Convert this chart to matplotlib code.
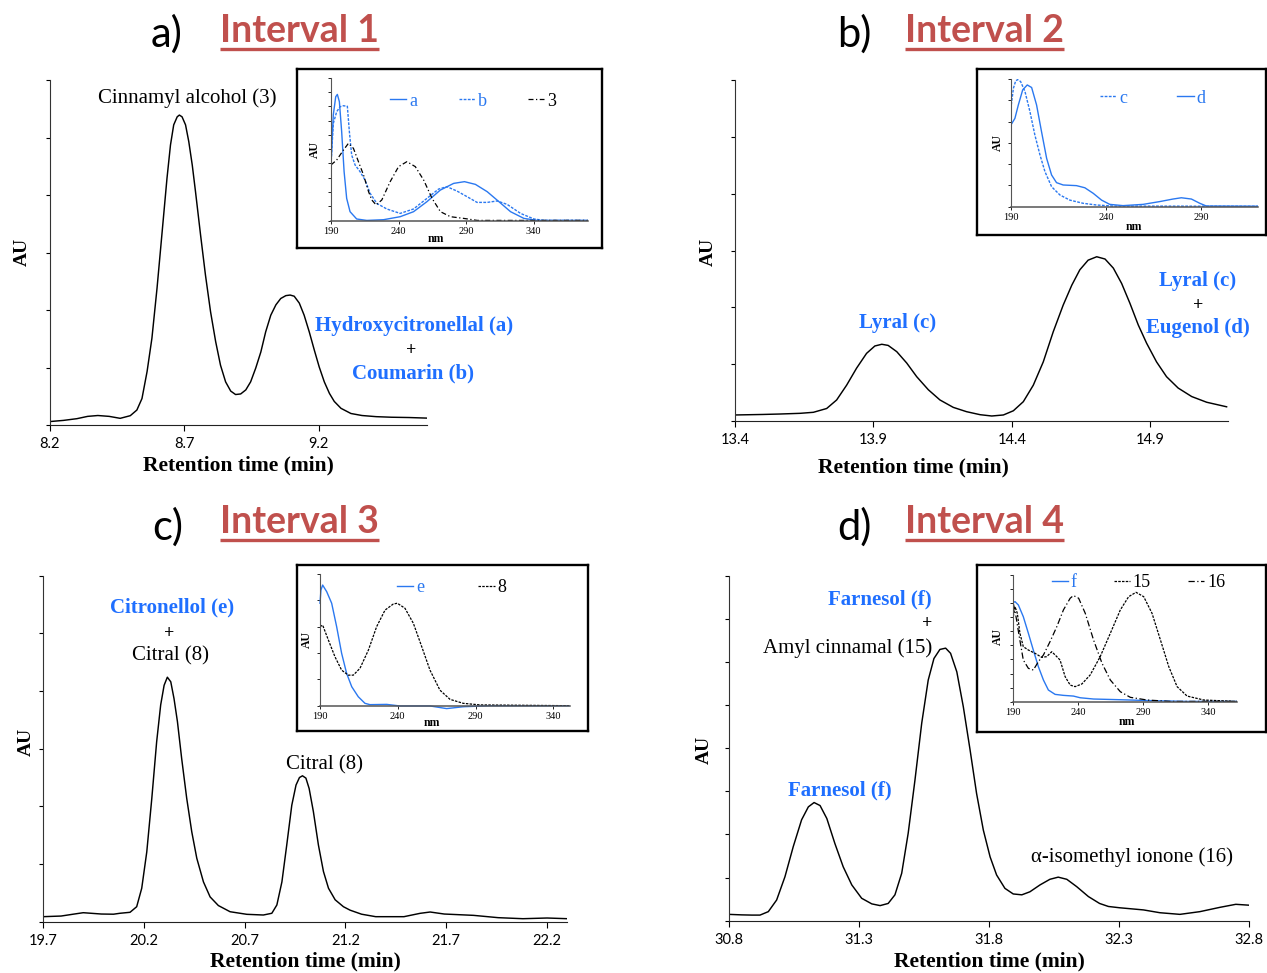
import matplotlib
matplotlib.use("Agg")
import matplotlib.pyplot as plt
from matplotlib.lines import Line2D

W, H = 1267, 973
SERIF = "Liberation Serif"
SANS = "Lato"
BLUE = "#1f6fff"
CURVE_BLUE = "#2a78f0"
RED = "#c0504d"

# ---------------- chromatograms: (retention time in min, absorbance in tick units)
trace_a = [(8.200, 0.06), (8.250, 0.08), (8.300, 0.11), (8.340, 0.15), (8.378, 0.165),
           (8.420, 0.15), (8.461, 0.116), (8.4985, 0.162), (8.523, 0.26), (8.542, 0.46),
           (8.561, 0.93), (8.579, 1.51), (8.598, 2.38), (8.617, 3.36), (8.635, 4.29),
           (8.648, 4.87), (8.660, 5.22), (8.673, 5.36), (8.681, 5.39), (8.691, 5.36),
           (8.704, 5.22), (8.716, 4.93), (8.729, 4.52), (8.741, 4.06), (8.760, 3.30),
           (8.778, 2.61), (8.797, 1.97), (8.816, 1.45), (8.834, 1.04), (8.853, 0.75),
           (8.872, 0.59), (8.890, 0.53), (8.909, 0.54), (8.928, 0.61), (8.946, 0.75),
           (8.965, 0.99), (8.984, 1.27), (9.002, 1.62), (9.021, 1.91), (9.040, 2.09),
           (9.058, 2.20), (9.077, 2.25), (9.093, 2.26), (9.108, 2.24), (9.127, 2.12),
           (9.145, 1.91), (9.164, 1.62), (9.183, 1.30), (9.201, 1.01), (9.220, 0.75),
           (9.239, 0.55), (9.257, 0.41), (9.282, 0.29), (9.319, 0.20), (9.360, 0.165),
           (9.413, 0.145), (9.470, 0.135), (9.535, 0.13), (9.600, 0.12)]

trace_b = [(13.400, 0.106), (13.500, 0.115), (13.563, 0.123), (13.635, 0.135),
           (13.683, 0.153), (13.731, 0.22), (13.767, 0.37), (13.803, 0.63), (13.839, 0.93),
           (13.875, 1.19), (13.905, 1.32), (13.930, 1.35), (13.953, 1.33), (13.984, 1.22),
           (14.020, 1.02), (14.056, 0.78), (14.098, 0.55), (14.140, 0.37), (14.188, 0.24),
           (14.236, 0.164), (14.285, 0.111), (14.327, 0.088), (14.369, 0.106), (14.405, 0.18),
           (14.441, 0.34), (14.477, 0.63), (14.513, 1.04), (14.549, 1.57), (14.585, 2.04),
           (14.616, 2.39), (14.645, 2.66), (14.675, 2.83), (14.706, 2.89), (14.736, 2.85),
           (14.766, 2.69), (14.796, 2.42), (14.826, 2.07), (14.856, 1.69), (14.886, 1.37),
           (14.922, 1.04), (14.958, 0.78), (15.000, 0.58), (15.049, 0.43), (15.103, 0.33),
           (15.175, 0.25)]

trace_c = [(19.70, 0.087), (19.79, 0.098), (19.85, 0.13), (19.90, 0.156), (19.99, 0.133),
           (20.05, 0.13), (20.082, 0.146), (20.132, 0.163), (20.165, 0.26), (20.190, 0.58),
           (20.215, 1.21), (20.240, 2.14), (20.264, 3.12), (20.284, 3.76), (20.301, 4.10),
           (20.317, 4.24), (20.334, 4.16), (20.350, 3.87), (20.367, 3.47), (20.388, 2.83),
           (20.413, 2.14), (20.438, 1.56), (20.463, 1.10), (20.496, 0.69), (20.529, 0.43),
           (20.570, 0.28), (20.628, 0.173), (20.711, 0.128), (20.793, 0.116), (20.835, 0.146),
           (20.860, 0.29), (20.885, 0.69), (20.909, 1.33), (20.934, 2.02), (20.955, 2.37),
           (20.972, 2.50), (20.987, 2.53), (21.004, 2.49), (21.020, 2.31), (21.041, 1.91),
           (21.066, 1.33), (21.091, 0.87), (21.116, 0.58), (21.149, 0.38), (21.190, 0.26),
           (21.223, 0.20), (21.28, 0.13), (21.35, 0.087), (21.49, 0.087), (21.57, 0.145),
           (21.62, 0.168), (21.69, 0.133), (21.835, 0.11), (21.957, 0.07), (22.08, 0.052),
           (22.20, 0.064), (22.30, 0.052)]

trace_d = [(30.80, 0.147), (30.85, 0.135), (30.889, 0.13), (30.920, 0.13), (30.952, 0.21),
           (30.984, 0.48), (31.016, 1.02), (31.048, 1.72), (31.080, 2.34), (31.106, 2.64),
           (31.128, 2.74), (31.151, 2.67), (31.177, 2.37), (31.208, 1.79), (31.240, 1.25),
           (31.273, 0.83), (31.311, 0.52), (31.350, 0.39), (31.382, 0.35), (31.413, 0.40),
           (31.439, 0.60), (31.465, 1.10), (31.490, 2.03), (31.516, 3.26), (31.542, 4.58),
           (31.567, 5.58), (31.589, 6.08), (31.612, 6.29), (31.634, 6.32), (31.653, 6.20),
           (31.677, 5.77), (31.702, 4.96), (31.728, 3.96), (31.753, 2.95), (31.779, 2.10),
           (31.805, 1.48), (31.830, 1.06), (31.862, 0.75), (31.894, 0.62), (31.927, 0.60),
           (31.958, 0.67), (31.997, 0.83), (32.035, 0.96), (32.067, 1.01), (32.100, 0.96),
           (32.138, 0.79), (32.183, 0.56), (32.226, 0.40), (32.26, 0.33), (32.303, 0.30),
           (32.395, 0.25), (32.458, 0.185), (32.535, 0.147), (32.612, 0.21), (32.689, 0.31),
           (32.75, 0.38), (32.80, 0.36)]

# ---------------- UV spectra (wavelength in nm, absorbance in tick units)
nm_sa = [190, 191.7, 193.5, 194.7, 196.2, 197.9, 199.7, 201.6, 204.1, 209, 216.5,
         228.9, 241.2, 251.1, 261, 270.9, 280.8, 288.8, 296.9, 305.6, 314.3, 322.9,
         332.8, 342.7, 380]
au_sa = [3.9, 7.4, 8.67, 8.83, 8.32, 6.22, 3.43, 1.56, 0.63, 0.12, 0.02,
         0.07, 0.28, 0.63, 1.33, 2.14, 2.61, 2.73, 2.54, 2.03, 1.33, 0.63,
         0.16, 0.02, 0.02]
nm_sb = [190, 191.7, 194.2, 196.7, 199.2, 202.1, 203.6, 205.3, 207.8, 211.5, 215.2,
         219, 223.9, 231.3, 241.2, 251.1, 261, 269.6, 275.8, 283.3, 290.7, 298.1,
         305.6, 313, 320.4, 330.3, 340.2, 347.7, 380]
au_sb = [3.9, 6.8, 7.62, 7.97, 8.04, 8.0, 6.22, 4.59, 3.9, 3.43, 2.84,
         1.91, 1.21, 0.82, 0.51, 0.82, 1.56, 2.21, 2.38, 2.07, 1.68, 1.28,
         1.28, 1.38, 1.14, 0.51, 0.12, 0.02, 0.02]
nm_s3 = [190, 194.2, 199.2, 202.9, 206.6, 210.3, 214.1, 217.8, 220.2, 223.4, 227.6,
         233.8, 240, 246.2, 252.4, 258.6, 264.8, 271, 278.4, 288.3, 298.2, 380]
au_s3 = [3.9, 4.24, 4.94, 5.41, 5.06, 4.13, 3.19, 2.03, 1.45, 1.1, 1.45,
         2.73, 3.78, 4.13, 3.78, 2.84, 1.56, 0.63, 0.28, 0.16, 0.02, 0.02]

nm_sc = [190, 191.1, 192.3, 193.3, 194.9, 197.2, 199.8, 202.4, 205.1, 207.7, 211.2,
         215.6, 220.8, 227.8, 234.8, 243.6, 320]
au_sc = [4.78, 5.56, 5.91, 5.97, 5.88, 5.41, 4.47, 3.37, 2.43, 1.65, 0.94,
         0.55, 0.31, 0.16, 0.08, 0.03, 0.02]
nm_sd = [190, 191.9, 193.7, 196, 198.4, 200.7, 203.3, 205.9, 208.6, 211.2, 213.8,
         217.3, 224.3, 228.7, 233.1, 237.5, 241.8, 248.8, 259.4, 268.1, 275.1, 279.5,
         284.8, 289.2, 292.7, 320]
au_sd = [3.87, 4.15, 4.78, 5.49, 5.72, 5.6, 4.78, 3.53, 2.27, 1.49, 1.13,
         1.02, 0.99, 0.89, 0.63, 0.31, 0.11, 0.05, 0.11, 0.24, 0.36, 0.42,
         0.36, 0.16, 0.03, 0.02]

nm_se = [190, 190.6, 191.7, 194.3, 197.5, 200.7, 203.9, 207.1, 210.4, 214.6, 218.9,
         222.1, 232.9, 241.4, 260.7, 271.4, 282.1, 299.3, 350]
au_se = [3.89, 4.39, 4.58, 4.33, 3.89, 3.0, 1.99, 1.23, 0.72, 0.34, 0.09,
         0.04, 0.05, -0.01, -0.01, -0.11, -0.04, 0.0, 0.0]
nm_s8 = [190, 191.7, 195.4, 199.6, 203.9, 208.2, 211.4, 215.7, 221.1, 226.4, 231.8,
         237.1, 239.7, 244.6, 250, 255.4, 260.7, 267.1, 273.6, 282.1, 292.9, 350]
au_s8 = [3.0, 3.06, 2.49, 1.86, 1.35, 1.16, 1.16, 1.42, 2.11, 3.0, 3.63,
         3.86, 3.89, 3.7, 3.13, 2.24, 1.35, 0.59, 0.24, 0.09, 0.03, 0.0]

nm_sf = [190, 191.3, 193.9, 197.7, 201.6, 205.4, 209.3, 213.2, 217, 222.2, 228.6,
         236.3, 241.5, 251.8, 272.4, 298.1, 323.8, 362]
au_sf = [7.04, 7.11, 6.87, 6.04, 4.86, 3.67, 2.49, 1.54, 0.83, 0.52, 0.45,
         0.4, 0.28, 0.19, 0.14, 0.07, 0.02, 0.02]
nm_s15 = [190, 191.3, 193.1, 195.1, 197.7, 201.6, 206.7, 211.9, 215.7, 219.6, 222.2,
          226, 229.9, 233.8, 237.6, 242.8, 249.2, 256.9, 264.7, 272.4, 278.8, 284.5,
          290.4, 296.8, 303.3, 309.7, 316.1, 323.8, 336.7, 362]
au_s15 = [6.04, 6.75, 6.28, 4.86, 3.91, 3.67, 3.44, 3.15, 3.2, 3.55, 3.32,
          2.96, 1.78, 1.18, 1.07, 1.26, 1.9, 3.2, 4.86, 6.52, 7.46, 7.77,
          7.46, 6.28, 4.38, 2.49, 1.07, 0.4, 0.12, 0.02]
nm_s16 = [190, 192.1, 194.6, 197.7, 201.6, 205.4, 209.3, 213.2, 218.3, 223.5, 228.6,
          233.8, 236.3, 240.3, 245.4, 251.8, 258.3, 264.7, 272.4, 280.1, 293, 311, 362]
au_s16 = [6.99, 6.04, 4.62, 2.96, 2.37, 2.25, 2.84, 3.32, 4.27, 5.33, 6.52,
          7.35, 7.54, 7.35, 6.28, 4.38, 2.73, 1.54, 0.71, 0.31, 0.12, 0.02, 0.02]

fig = plt.figure(figsize=(W / 100, H / 100), dpi=100)
renderer = fig.canvas.get_renderer()


def px_rect(l, t, r, b):
    return [l / W, 1 - b / H, (r - l) / W, (b - t) / H]


def fig_xy(x, y):
    return x / W, 1 - y / H


def chromatogram(frame, trace, xlim, xticks, n_y, xlabel_xy, ylabel_xy):
    ax = fig.add_axes(px_rect(*frame))
    ax.set_facecolor("none")
    t, au = zip(*trace)
    ax.plot(t, au, color="black", lw=1.05, solid_joinstyle="round")
    ax.set_xlim(*xlim)
    ax.set_ylim(0, n_y)
    ax.spines[["top", "right"]].set_visible(False)
    ax.spines["left"].set_color("#333333")
    ax.spines["bottom"].set_color("#222222")
    ax.set_xticks(xticks)
    ax.set_xticklabels([f"{v:.1f}" for v in xticks], fontfamily=SANS, fontsize=10.5)
    ax.set_yticks(range(n_y + 1))
    ax.set_yticklabels([])
    ax.tick_params(axis="x", length=4, width=0.8, pad=5)
    ax.tick_params(axis="y", length=3, width=0.8)
    ax.set_xlabel("Retention time (min)", fontfamily=SERIF, fontweight="bold", fontsize=15.5)
    ax.xaxis.set_label_coords(*fig_xy(*xlabel_xy), transform=fig.transFigure)
    ax.xaxis.label.set_va("center")
    ax.set_ylabel("AU", fontfamily=SERIF, fontweight="bold", fontsize=14)
    ax.yaxis.set_label_coords(*fig_xy(*ylabel_xy), transform=fig.transFigure)
    ax.yaxis.label.set_va("center")
    return ax


def panel_title(letter, title, x_letter, base_letter, x_title, base_title):
    fig.text(*fig_xy(x_letter, base_letter), letter, fontfamily=SANS, fontsize=30,
             ha="left", va="baseline")
    t = fig.text(*fig_xy(x_title, base_title), title, fontfamily=SANS, fontweight="bold",
                 fontsize=27, color=RED, ha="left", va="baseline")
    bb = t.get_window_extent(renderer)
    y = 1 - (base_title + 6.5) / H
    fig.add_artist(Line2D([bb.x0 / W, bb.x1 / W], [y, y], transform=fig.transFigure,
                          color=RED, lw=2.4, solid_capstyle="butt"))


def spectrum_inset(box, frame, xlim, xticks, n_y, nm_xy, au_xy):
    b = fig.add_axes(px_rect(*box))
    b.set_xticks([])
    b.set_yticks([])
    b.set_facecolor("white")
    for s in b.spines.values():
        s.set_linewidth(1.7)
        s.set_color("black")
    ax = fig.add_axes(px_rect(*frame))
    ax.set_facecolor("none")
    ax.set_xlim(*xlim)
    ax.set_ylim(0, n_y)
    ax.spines[["top", "right"]].set_visible(False)
    ax.spines["left"].set_color("#555555")
    ax.spines["bottom"].set_color("#555555")
    ax.spines["bottom"].set_linewidth(1.1)
    ax.set_xticks(xticks)
    ax.set_xticklabels([str(v) for v in xticks], fontfamily=SERIF, fontsize=7.5)
    ax.set_yticks(range(n_y + 1))
    ax.set_yticklabels([])
    ax.tick_params(axis="both", length=2, width=0.6, pad=2.5)
    ax.set_xlabel("nm", fontfamily=SERIF, fontweight="bold", fontsize=8.5)
    ax.xaxis.set_label_coords(*fig_xy(*nm_xy), transform=fig.transFigure)
    ax.xaxis.label.set_va("center")
    ax.set_ylabel("AU", fontfamily=SERIF, fontweight="bold", fontsize=8.5)
    ax.yaxis.set_label_coords(*fig_xy(*au_xy), transform=fig.transFigure)
    ax.yaxis.label.set_va("center")
    return ax


def spectrum_legend(ax, anchor, colspace):
    leg = ax.legend(loc="center left", bbox_to_anchor=anchor, ncol=len(ax.get_lines()),
                    frameon=False, prop={"family": SERIF, "size": 13}, handlelength=0.9,
                    handletextpad=0.15, columnspacing=colspace, borderpad=0,
                    borderaxespad=0)
    for txt, line in zip(leg.get_texts(), leg.get_lines()):
        txt.set_color(line.get_color())


DOTTED = (0, (2, 1))
DASHDOT = (0, (4, 2, 1, 2))

# ---------------- a) Interval 1
ax = chromatogram((50, 80, 426.5, 425), trace_a, (8.2, 9.6), [8.2, 8.7, 9.2], 6,
                  (238, 465), (22, 252))
ax.text(8.711, 5.69, "Cinnamyl alcohol (3)", fontfamily=SERIF, fontsize=15,
        ha="center", va="center")
ax.text(9.554, 1.72, "Hydroxycitronellal (a)", fontfamily=SERIF, fontweight="bold",
        fontsize=15, color=BLUE, ha="center", va="center")
ax.text(9.543, 1.30, "+", fontfamily=SERIF, fontweight="bold", fontsize=13,
        ha="center", va="center")
ax.text(9.551, 0.89, "Coumarin (b)", fontfamily=SERIF, fontweight="bold",
        fontsize=15, color=BLUE, ha="center", va="center")
panel_title("a)", "Interval 1", 151, 46.5, 220, 42)

ins = spectrum_inset((296.7, 69, 601.7, 248.3), (331, 77.7, 587.7, 220.7), (190, 380),
                     [190, 240, 290, 340], 10, (436, 239), (315, 150))
ins.plot(nm_sa, au_sa, color=CURVE_BLUE, lw=1.0, label="a")
ins.plot(nm_sb, au_sb, color=CURVE_BLUE, lw=1.0, ls=DOTTED, label="b")
ins.plot(nm_s3, au_s3, color="black", lw=0.9, ls=DASHDOT, label="3")
spectrum_legend(ins, (0.23, 0.837), 2.3)

# ---------------- b) Interval 2
ax = chromatogram((735, 80, 1228, 421), trace_b, (13.4, 15.18),
                  [13.4, 13.9, 14.4, 14.9], 6, (913, 467), (708, 252))
ax.text(13.988, 1.725, "Lyral (c)", fontfamily=SERIF, fontweight="bold", fontsize=15,
        color=BLUE, ha="center", va="center")
ax.text(15.071, 2.465, "Lyral (c)", fontfamily=SERIF, fontweight="bold", fontsize=15,
        color=BLUE, ha="center", va="center")
ax.text(15.071, 2.025, "+", fontfamily=SERIF, fontweight="bold", fontsize=13,
        ha="center", va="center")
ax.text(15.071, 1.637, "Eugenol (d)", fontfamily=SERIF, fontweight="bold", fontsize=15,
        color=BLUE, ha="center", va="center")
panel_title("b)", "Interval 2", 837, 46.5, 905, 42)

ins = spectrum_inset((977.3, 69, 1266, 235), (1011.3, 79, 1258.3, 206.7), (190, 320),
                     [190, 240, 290], 6, (1134, 226.7), (998, 143))
ins.plot(nm_sc, au_sc, color=CURVE_BLUE, lw=1.0, ls=DOTTED, label="c")
ins.plot(nm_sd, au_sd, color=CURVE_BLUE, lw=1.0, label="d")
spectrum_legend(ins, (0.359, 0.851), 2.8)

# ---------------- c) Interval 3
ax = chromatogram((42.9, 575.7, 567.3, 921.7), trace_c, (19.7, 22.3),
                  [19.7, 20.2, 20.7, 21.2, 21.7, 22.2], 6, (305, 961.7), (26.5, 742))
ax.text(20.340, 5.457, "Citronellol (e)", fontfamily=SERIF, fontweight="bold",
        fontsize=15, color=BLUE, ha="center", va="center")
ax.text(20.325, 5.006, "+", fontfamily=SERIF, fontweight="bold", fontsize=13,
        ha="center", va="center")
ax.text(20.335, 4.607, "Citral (8)", fontfamily=SERIF, fontsize=15, ha="center",
        va="center")
ax.text(21.094, 2.717, "Citral (8)", fontfamily=SERIF, fontsize=15, ha="center",
        va="center")
panel_title("c)", "Interval 3", 152, 540, 220, 533.3)

ins = spectrum_inset((296.7, 565, 587.7, 730.7), (320, 574, 570, 705.7), (190, 350.7),
                     [190, 240, 290, 340], 5, (431.7, 722.7), (307, 640))
ins.plot(nm_se, au_se, color=CURVE_BLUE, lw=1.0, label="e", clip_on=False)
ins.plot(nm_s8, au_s8, color="black", lw=0.9, ls=DOTTED, label="8")
spectrum_legend(ins, (0.308, 0.894), 3.0)

# ---------------- d) Interval 4
ax = chromatogram((728.8, 575.7, 1248.8, 920.7), trace_d, (30.8, 32.8),
                  [30.8, 31.3, 31.8, 32.3, 32.8], 8, (989, 961.7), (704, 750))
ax.text(31.582, 7.437, "Farnesol (f)", fontfamily=SERIF, fontweight="bold", fontsize=15,
        color=BLUE, ha="right", va="center")
ax.text(31.582, 6.88, "+", fontfamily=SERIF, fontweight="bold", fontsize=13,
        ha="right", va="center")
ax.text(31.582, 6.32, "Amyl cinnamal (15)", fontfamily=SERIF, fontsize=15,
        ha="right", va="center")
ax.text(31.227, 3.03, "Farnesol (f)", fontfamily=SERIF, fontweight="bold", fontsize=15,
        color=BLUE, ha="center", va="center")
ax.text(32.351, 1.478, "\u03b1-isomethyl ionone (16)", fontfamily=SERIF, fontsize=15,
        ha="center", va="center")
panel_title("d)", "Interval 4", 837, 540, 905, 533.3)

ins = spectrum_inset((977.3, 565, 1266, 731.7), (1013.3, 575, 1236.7, 701.7), (190, 362),
                     [190, 240, 290, 340], 9, (1126.7, 721.7), (998, 636.7))
ins.plot(nm_sf, au_sf, color=CURVE_BLUE, lw=1.0, label="f")
ins.plot(nm_s15, au_s15, color="black", lw=0.9, ls=DOTTED, label="15")
ins.plot(nm_s16, au_s16, color="black", lw=0.9, ls=(0, (5, 2, 1, 2)), label="16")
spectrum_legend(ins, (0.173, 0.937), 2.05)

fig.savefig("out.png", dpi=100)
